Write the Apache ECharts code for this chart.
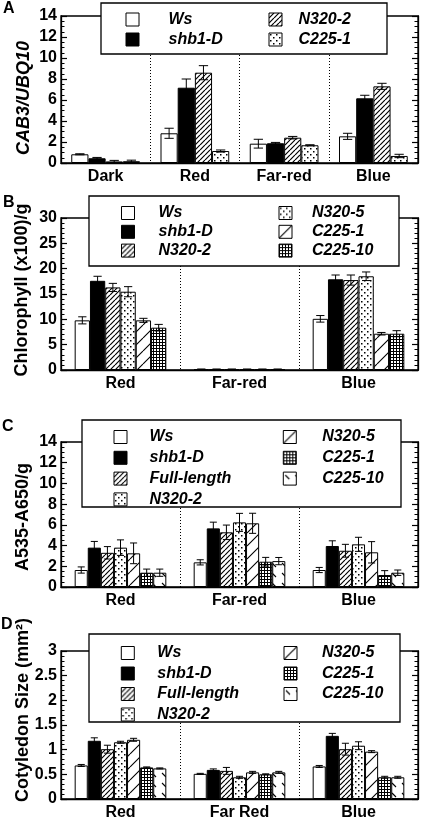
<!DOCTYPE html>
<html><head><meta charset="utf-8">
<script src="https://cdn.jsdelivr.net/npm/echarts@6/dist/echarts.min.js"></script>
<style>html,body{margin:0;padding:0;background:#fff}#c{width:427px;height:822px}</style>
</head><body><div id="c"></div>
<script>
// ---------- DATA ----------
const catsA = ['Dark', 'Red', 'Far-red', 'Blue'];
const namesA = ['Ws', 'shb1-D', 'N320-2', 'C225-1'];
const valA = [
  [0.83, 2.83, 1.84, 2.54],
  [0.45, 7.17, 1.88, 6.16],
  [0.15, 8.60, 2.41, 7.30],
  [0.17, 1.14, 1.69, 0.67]
];
const errA = [
  [0.05, 0.48, 0.42, 0.29],
  [0.08, 0.83, 0.08, 0.29],
  [0.10, 0.67, 0.12, 0.29],
  [0.10, 0.10, 0.05, 0.16]
];
const ticksA = { min: 0, max: 14, interval: 2 };

const catsB = ['Red', 'Far-red', 'Blue'];
const namesB = ['Ws', 'shb1-D', 'N320-2', 'N320-5', 'C225-1', 'C225-10'];
const valB = [
  [9.8, 0.15, 10.1],
  [17.6, 0.15, 17.9],
  [16.3, 0.15, 17.75],
  [15.45, 0.15, 18.5],
  [9.8, 0.15, 7.16],
  [8.35, 0.15, 7.16]
];
const errB = [
  [0.7, 0.05, 0.65],
  [0.9, 0.05, 0.85],
  [0.8, 0.05, 1.0],
  [1.0, 0.05, 0.85],
  [0.4, 0.05, 0.25],
  [0.65, 0.05, 0.6]
];
const ticksB = { min: 0, max: 30, interval: 5 };

const catsC = ['Red', 'Far-red', 'Blue'];
const namesC = ['Ws', 'shb1-D', 'Full-length', 'N320-2', 'N320-5', 'C225-1', 'C225-10'];
const valC = [
  [1.64, 2.38, 1.64],
  [3.8, 5.66, 3.96],
  [3.3, 5.28, 3.5],
  [3.8, 6.24, 4.12],
  [3.25, 6.15, 3.35],
  [1.38, 2.44, 1.16],
  [1.38, 2.5, 1.38]
];
const errC = [
  [0.3, 0.25, 0.25],
  [0.6, 0.6, 0.5],
  [0.6, 0.7, 0.62],
  [0.75, 0.87, 0.68],
  [1.0, 0.97, 1.03],
  [0.35, 0.42, 0.42],
  [0.35, 0.35, 0.26]
];
const ticksC = { min: 0, max: 14, interval: 2 };

const catsD = ['Red', 'Far Red', 'Blue'];
const namesD = ['Ws', 'shb1-D', 'Full-length', 'N320-2', 'N320-5', 'C225-1', 'C225-10'];
const valD = [
  [0.68, 0.51, 0.66],
  [1.18, 0.59, 1.28],
  [1.01, 0.57, 1.01],
  [1.15, 0.44, 1.08],
  [1.20, 0.54, 0.96],
  [0.64, 0.50, 0.44],
  [0.62, 0.54, 0.44]
];
const errD = [
  [0.02, 0.01, 0.02],
  [0.06, 0.02, 0.05],
  [0.08, 0.07, 0.12],
  [0.02, 0.02, 0.08],
  [0.03, 0.02, 0.02],
  [0.01, 0.01, 0.02],
  [0.01, 0.02, 0.02]
];
const ticksD = { min: 0, max: 3, interval: 0.5 };

const yTitles = ['CAB3/UBQ10', 'Chlorophyll (x100)/g', 'A535-A650/g', 'Cotyledon Size (mm²)'];
const panelLetters = ['A', 'B', 'C', 'D'];

// ---------- PATTERNS ----------
const F = "'Liberation Sans', Arial, Helvetica, sans-serif";
function pat(size, draw) {
  const c = document.createElement('canvas');
  c.width = size; c.height = size;
  const g = c.getContext('2d');
  g.fillStyle = '#fff'; g.fillRect(0, 0, size, size);
  g.strokeStyle = '#000'; g.fillStyle = '#000';
  draw(g, size);
  return { image: c, repeat: 'repeat' };
}
function diag(g, s, w) {
  g.lineWidth = w; g.beginPath();
  for (let k = -1; k <= 1; k++) { g.moveTo(k * s, s); g.lineTo(k * s + s, 0); }
  g.stroke();
}
const P = {
  white: '#fff',
  black: '#000',
  hatch: pat(5, (g, s) => diag(g, s, 1.2)),
  sparse: pat(13, (g, s) => diag(g, s, 1.1)),
  dots: pat(6, (g) => { g.fillRect(1, 1, 1.5, 1.5); g.fillRect(4, 4, 1.5, 1.5); }),
  grid: pat(3, (g) => { g.fillRect(0, 0, 3, 1); g.fillRect(0, 1, 1, 2); }),
  dash: pat(10, (g) => { g.lineWidth = 1.1; g.beginPath(); g.moveTo(2, 3); g.lineTo(6, 7); g.stroke(); })
};
const fillA = [P.white, P.black, P.hatch, P.dots];
const fillB = [P.white, P.black, P.hatch, P.dots, P.sparse, P.grid];
const fillC = [P.white, P.black, P.hatch, P.dots, P.sparse, P.grid, P.dash];
const fillD = fillC;

// ---------- LAYOUT ----------
const GAP = 0.23;
const panels = [
  { id: 'A', cats: catsA, names: namesA, val: valA, err: errA, fill: fillA, ticks: ticksA, minor: 4, top: 16, height: 147 },
  { id: 'B', cats: catsB, names: namesB, val: valB, err: errB, fill: fillB, ticks: ticksB, minor: 5, top: 218, height: 152 },
  { id: 'C', cats: catsC, names: namesC, val: valC, err: errC, fill: fillC, ticks: ticksC, minor: 4, top: 442, height: 145 },
  { id: 'D', cats: catsD, names: namesD, val: valD, err: errD, fill: fillD, ticks: ticksD, minor: 5, top: 651, height: 148 }
];

const grid = [], xAxis = [], yAxis = [], series = [];
panels.forEach((p, pi) => {
  grid.push({ left: 61, right: 9, top: p.top, height: p.height, show: true, borderColor: '#000', borderWidth: 1.3, backgroundColor: 'transparent' });
  xAxis.push({
    type: 'category', gridIndex: pi, data: p.cats,
    axisLine: { show: true, lineStyle: { color: '#000', width: 1.3 } },
    axisTick: { show: false },
    axisLabel: { color: '#000', fontFamily: F, fontSize: 16, fontWeight: 'bold', margin: 6, interval: 0 },
    splitLine: { show: true, interval: 0, lineStyle: { color: '#000', width: 1, type: [1, 2] } }
  });
  const yBase = {
    type: 'value', gridIndex: pi, min: p.ticks.min, max: p.ticks.max, interval: p.ticks.interval,
    axisLine: { show: true, lineStyle: { color: '#000', width: 1.3 } },
    axisTick: { show: true, inside: true, length: 6, lineStyle: { color: '#000', width: 1.2 } },
    minorTick: { show: true, splitNumber: p.minor, length: 3.5, lineStyle: { color: '#000', width: 1 } },
    splitLine: { show: false }
  };
  yAxis.push(Object.assign({}, yBase, {
    position: 'left',
    axisLabel: { color: '#000', fontFamily: F, fontSize: 16, fontWeight: 'bold', margin: 4 }
  }));
  yAxis.push(Object.assign({}, yBase, { position: 'right', axisLabel: { show: false } }));

  const n = p.names.length;
  p.names.forEach((nm, si) => {
    series.push({
      type: 'bar', name: p.id + ':' + nm, xAxisIndex: pi, yAxisIndex: 2 * pi,
      data: p.val[si], barGap: '0%', barCategoryGap: (GAP * 100) + '%',
      itemStyle: { color: p.fill[si], borderColor: '#000', borderWidth: 1 },
      z: 2, animation: false, silent: true
    });
  });
  const eData = [];
  p.names.forEach((nm, si) => p.cats.forEach((c, ci) => eData.push([ci, p.val[si][ci], p.err[si][ci], si])));
  series.push({
    type: 'custom', xAxisIndex: pi, yAxisIndex: 2 * pi, z: 6, silent: true, animation: false,
    encode: { x: 0, y: 1 },
    data: eData,
    renderItem: (params, api) => {
      const ci = api.value(0), v = api.value(1), e = api.value(2), si = api.value(3);
      const c = api.coord([ci, v]);
      const band = api.size([1, 0])[0];
      const total = band * (1 - GAP);
      const bw = total / n;
      const x = c[0] - total / 2 + bw * (si + 0.5);
      const yH = api.coord([ci, v + e])[1];
      const yL = api.coord([ci, Math.max(v - e, 0)])[1];
      const h = bw * 0.27;
      const st = { stroke: '#000', lineWidth: 1 };
      return { type: 'group', children: [
        { type: 'line', shape: { x1: x, y1: yH, x2: x, y2: yL }, style: st },
        { type: 'line', shape: { x1: x - h, y1: yH, x2: x + h, y2: yH }, style: st },
        { type: 'line', shape: { x1: x - h, y1: yL, x2: x + h, y2: yL }, style: st }
      ] };
    }
  });
});

function legend(pid, names, left, top, gap, pad) {
  return {
    left, top, orient: 'vertical', padding: 0, itemGap: gap, itemWidth: 13, itemHeight: 13,
    icon: 'rect', selectedMode: false, z: 20,
    data: names.map(n => pid + ':' + n),
    formatter: n => n.slice(n.indexOf(':') + 1),
    itemStyle: { borderColor: '#000', borderWidth: 1 },
    textStyle: { fontFamily: F, fontSize: 16, fontWeight: 'bold', fontStyle: 'italic', color: '#000', lineHeight: 13, padding: [0, 0, 0, pad] }
  };
}
const legends = [
  legend('A', namesA.slice(0, 2), 125.5, 11.5, 4, 24.5),
  legend('A', namesA.slice(2), 268.5, 11.5, 4, 11.5),
  legend('B', namesB.slice(0, 3), 121, 205, 2.8, 19),
  legend('B', namesB.slice(3), 278.5, 205, 2.8, 15),
  legend('C', namesC.slice(0, 4), 113.5, 429, 4.8, 17.5),
  legend('C', namesC.slice(4), 282.8, 429, 4.8, 21),
  legend('D', namesD.slice(0, 4), 120.8, 645, 4.5, 18),
  legend('D', namesD.slice(4), 283.5, 645, 4.5, 20)
];

const boxes = [[101, 3, 286, 51], [89, 196, 310, 70], [82, 420, 319, 87], [89, 634, 311, 88]];
const titlePos = [[24, 98], [22, 290], [23, 517], [23, 710]];
const letterPos = [[3, 1], [3, 195], [2, 419], [1, 617]];
const graphic = [];
boxes.forEach(b => graphic.push({ type: 'rect', z: 10, shape: { x: b[0], y: b[1], width: b[2], height: b[3] }, style: { fill: '#fff', stroke: '#000', lineWidth: 1.3 } }));
yTitles.forEach((t, i) => graphic.push({ type: 'text', z: 10, x: titlePos[i][0], y: titlePos[i][1], rotation: Math.PI / 2,
  style: { text: t, fill: '#000', font: (i === 0 ? 'italic ' : '') + 'bold 18px ' + F, align: 'center', verticalAlign: 'middle' } }));
panelLetters.forEach((t, i) => graphic.push({ type: 'text', z: 12, x: letterPos[i][0], y: letterPos[i][1],
  style: { text: t, fill: '#000', font: 'bold 16px ' + F, align: 'left', verticalAlign: 'top' } }));

const chart = echarts.init(document.getElementById('c'), null, { renderer: 'canvas' });
chart.setOption({ animation: false, backgroundColor: '#fff', grid, xAxis, yAxis, series, legend: legends, graphic });
</script></body></html>
